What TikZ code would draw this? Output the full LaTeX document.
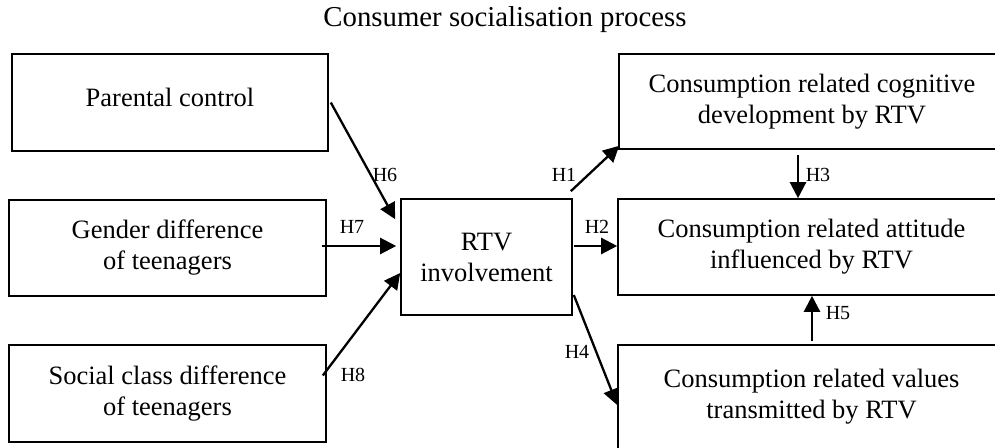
\documentclass[tikz,border=0pt]{standalone}
\usepackage{fontspec}
\setmainfont{Liberation Serif}
\usetikzlibrary{arrows.meta,calc}
\begin{document}
\begin{tikzpicture}[x=1pt,y=-1pt,
  box/.style={draw,line width=1.6pt,rectangle,inner sep=0pt,align=center,
    font=\fontsize{26.5}{31}\selectfont},
  arr/.style={line width=2.3pt,-{Triangle[length=16pt,width=16pt]}},
  hlab/.style={font=\fontsize{20}{24}\selectfont,inner sep=0pt}]
\useasboundingbox (0,0) rectangle (995,447);
\clip (0,0) rectangle (995,447);
\node[font=\fontsize{28.8}{32}\selectfont] (title) at (505,20) {Consumer socialisation process};
\node[box,minimum width=316pt,minimum height=97pt] (par) at (170,102.5) {};
\node[font=\fontsize{26.5}{31}\selectfont] (partext) at ($(par.center)+(0,-5)$) {Parental control};
\node[box,minimum width=317pt,minimum height=96pt] (gen) at (167.5,248) {Gender difference\\of teenagers};
\node[box,minimum width=317pt,minimum height=97pt] (soc) at (167.5,393.5) {Social class difference\\of teenagers};
\node[box,minimum width=171pt,minimum height=116pt] (rtv) at (486.5,257) {RTV\\involvement};
\node[box,minimum width=386pt,minimum height=95pt] (cog) at (812,101.5) {Consumption related cognitive\\development by RTV};
\node[box,minimum width=387pt,minimum height=96pt] (att) at (811.5,247) {Consumption related attitude\\influenced by RTV};
\node[box,minimum width=387pt,minimum height=104pt] (val) at (811.5,397) {Consumption related values\\transmitted by RTV};
% arrows
\draw[arr] ($(par.east)+(2,0)$) -- ($(rtv.north west)+(-5,21)$);
\draw[arr] ($(gen.east)+(-5,-2)$) -- ($(rtv.west |- gen.east)+(-4,-2)$);
\draw[arr] ($(soc.east)+(-4,-18)$) -- ($(rtv.west)+(0,16)$);
\draw[arr] ($(rtv.north east)+(-2,-7)$) -- ($(cog.south west)+(1,-4)$);
\draw[arr] ($(rtv.east |- att.west)+(1,-1)$) -- ($(att.west)+(0,-1)$);
\draw[arr] ($(rtv.east)+(1,38)$) -- ($(val.west)+(0,8)$);
\draw[arr] ($(cog.south)+(-14,5)$) -- ($(att.north)+(-13.5,0)$);
\draw[arr] ($(val.north)+(0.5,-3)$) -- ($(att.south)+(0.5,0)$);
% labels
\node[hlab] (h6) at (385,175) {H6};
\node[hlab] (h7) at (352,227) {H7};
\node[hlab] (h8) at (353,375) {H8};
\node[hlab] (h1) at (564,175) {H1};
\node[hlab] (h2) at (597,227) {H2};
\node[hlab] (h4) at (577,352) {H4};
\node[hlab] (h3) at (818,175) {H3};
\node[hlab] (h5) at (838,313) {H5};
\end{tikzpicture}
\end{document}
